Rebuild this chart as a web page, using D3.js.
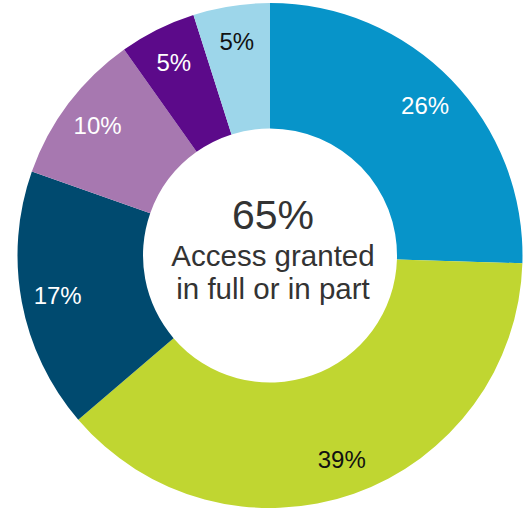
<!DOCTYPE html>
<html>
<head>
<meta charset="utf-8">
<script src="https://cdn.jsdelivr.net/npm/d3@7"></script>
<style>
  html, body { margin: 0; padding: 0; background: #fff; }
  svg { display: block; }
  text { font-family: "Liberation Sans", Arial, sans-serif; }
</style>
</head>
<body>
<div id="chart"></div>
<script>
// Share of requests by outcome (percent), clockwise from 12 o'clock
const categories = ["A", "B", "C", "D", "E", "F"];
const values = [26, 39, 17, 10, 5, 5];
const colors = ["#0794c9", "#c0d631", "#004a6f", "#a778b0", "#5c0a8a", "#9dd6ea"];
const labelColors = ["#ffffff", "#111111", "#ffffff", "#ffffff", "#ffffff", "#111111"];
const centerValue = "65%";
const centerLines = ["Access granted", "in full or in part"];

const width = 526, height = 510;
const cx = 270, cy = 255.5;
const outerR = 252.5, innerR = 127;
const labelR = 216;

const svg = d3.select("#chart").append("svg")
  .attr("width", width).attr("height", height);

const g = svg.append("g").attr("transform", `translate(${cx},${cy})`);

const pie = d3.pie().sort(null).value(d => d.value);
const data = categories.map((c, i) => ({ key: c, value: values[i], i }));
const arcs = pie(data);

const arc = d3.arc().innerRadius(innerR).outerRadius(outerR);
const labelArc = d3.arc().innerRadius(labelR).outerRadius(labelR);

g.selectAll("path.slice").data(arcs).enter().append("path")
  .attr("class", "slice")
  .attr("d", arc)
  .attr("fill", d => colors[d.data.i]);

g.selectAll("text.pct").data(arcs).enter().append("text")
  .attr("class", "pct")
  .attr("transform", d => `translate(${labelArc.centroid(d)})`)
  .attr("text-anchor", "middle")
  .attr("dy", "0.35em")
  .attr("font-size", 24)
  .attr("fill", d => labelColors[d.data.i])
  .text(d => d.data.value + "%");

// Centre summary
const ct = g.append("g").attr("transform", "translate(3,0)");
ct.append("text")
  .attr("text-anchor", "middle")
  .attr("y", -27)
  .attr("font-size", 41)
  .attr("fill", "#333333")
  .text(centerValue);
ct.selectAll("text.line").data(centerLines).enter().append("text")
  .attr("class", "line")
  .attr("text-anchor", "middle")
  .attr("y", (d, i) => 10.5 + i * 33)
  .attr("font-size", 29.5)
  .attr("fill", "#333333")
  .text(d => d);
</script>
</body>
</html>
